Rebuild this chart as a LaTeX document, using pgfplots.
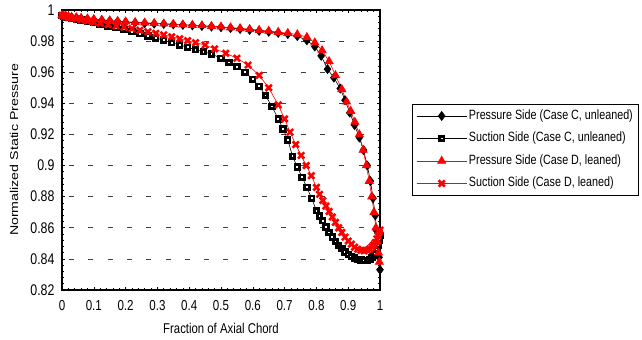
\documentclass[border=0pt]{standalone}
\usepackage{fontspec}
\setmainfont{Liberation Sans}
\usepackage{pgfplots}
\pgfplotsset{compat=1.18}
\definecolor{pred}{RGB}{255,0,0}
\newcommand{\tx}[1]{\scalebox{1}[1.25]{#1}}
\newcommand{\ty}[1]{\scalebox{1.25}[1]{#1}}

\begin{document}
\begin{tikzpicture}
\begin{axis}[
  scale only axis, width=318bp, height=280bp,
  xmin=0, xmax=1, ymin=0.82, ymax=1,
  xtick={0,0.1,...,1.0}, ytick={0.82,0.84,...,1.001},
  xticklabels={\tx{0},\tx{0.1},\tx{0.2},\tx{0.3},\tx{0.4},\tx{0.5},\tx{0.6},\tx{0.7},\tx{0.8},\tx{0.9},\tx{1}},
  yticklabels={\tx{0.82},\tx{0.84},\tx{0.86},\tx{0.88},\tx{0.9},\tx{0.92},\tx{0.94},\tx{0.96},\tx{0.98},\tx{1}},
  minor x tick num=4, minor y tick num=4,
  tick align=inside,
  major tick length=3bp, minor tick length=2.2bp,
  every tick/.style={black, line width=0.6pt},
  axis line style={line width=2.5bp},
  ymajorgrids,
  grid style={black!75, line width=0.7pt, dash pattern=on 5bp off 14.3bp, dash phase=-7bp},
  xticklabel style={font=\fontsize{11.6}{13}\selectfont, yshift=-7bp},
  yticklabel style={font=\fontsize{12.4}{14}\selectfont, xshift=-4bp},
  xlabel={\tx{Fraction of Axial Chord}}, ylabel={\ty{Normalized Static Pressure}},
  label style={font=\fontsize{11.4}{13}\selectfont},
  xlabel style={at={(axis description cs:0.5,-0.1357)}, anchor=center},
  ylabel style={at={(axis description cs:-0.151,0.5)}, anchor=center},
  legend style={at={(1.1006,0.664)}, anchor=north west, draw=black, line width=0.8pt,
    font=\fontsize{10.8}{13}\selectfont, row sep=9.5bp, inner xsep=4bp, inner ysep=5bp,
    nodes={inner xsep=2bp, inner ysep=0bp, text height=10bp, text depth=3bp}},
  legend cell align=left,
  legend image code/.code={\draw[mark repeat=2,mark phase=2,#1] plot coordinates {(0bp,0bp) (25bp,0bp) (50bp,0bp)};},
]
% Pressure Side C
\addplot[black, line width=0.6pt, mark=diamond*, mark size=4.4pt, mark options={solid, fill=black, line width=0.8pt}] coordinates {
(0,0.9965)(0.005,0.9962)(0.012,0.996)(0.02,0.9957)(0.03,0.9953)(0.045,0.995)(0.06,0.9946)(0.08,0.9942)
(0.1,0.9938)(0.125,0.9934)(0.15,0.993)(0.175,0.9926)(0.2,0.9922)(0.23,0.9918)(0.26,0.9915)(0.29,0.9912)
(0.32,0.991)(0.35,0.9907)(0.38,0.9904)(0.41,0.9901)(0.44,0.9897)(0.47,0.9893)(0.5,0.9889)(0.53,0.9884)
(0.56,0.9878)(0.59,0.9872)(0.62,0.9866)(0.65,0.986)(0.68,0.9853)(0.71,0.9845)(0.74,0.9832)(0.77,0.9805)
(0.795,0.9765)(0.815,0.9705)(0.835,0.962)(0.855,0.9565)(0.875,0.9495)(0.89,0.942)(0.905,0.934)(0.92,0.926)
(0.935,0.918)(0.948,0.910)(0.96,0.900)(0.97,0.89)(0.978,0.879)(0.985,0.868)(0.99,0.858)(0.994,0.849)
(0.997,0.841)(1.0,0.833)};
\addlegendentry{\tx{Pressure Side (Case C, unleaned)}}
% Suction Side C
\addplot[black, line width=0.6pt, mark=square*, mark size=2.3pt, mark options={solid, fill=white, draw=black, line width=2.8pt}] coordinates {
(0,0.9965)(0.005,0.996)(0.012,0.9955)(0.02,0.995)(0.03,0.9945)(0.045,0.994)(0.06,0.9935)(0.08,0.9928)
(0.1,0.992)(0.12,0.991)(0.145,0.9898)(0.17,0.9886)(0.195,0.9874)(0.22,0.986)(0.245,0.9847)(0.27,0.9833)
(0.295,0.982)(0.32,0.9806)(0.345,0.979)(0.37,0.9775)(0.395,0.976)(0.42,0.9745)(0.445,0.9732)(0.47,0.9717)
(0.5,0.969)(0.525,0.9663)(0.55,0.9635)(0.575,0.96)(0.6,0.9555)(0.62,0.951)(0.64,0.945)(0.66,0.938)
(0.68,0.93)(0.695,0.9235)(0.71,0.9165)(0.725,0.906)(0.74,0.899)(0.755,0.8925)(0.77,0.886)(0.785,0.879)
(0.8,0.871)(0.81,0.8675)(0.82,0.8645)(0.83,0.8605)(0.84,0.857)(0.85,0.854)(0.86,0.851)(0.87,0.8485)
(0.88,0.8465)(0.89,0.8445)(0.9,0.8428)(0.91,0.8415)(0.92,0.8405)(0.93,0.8398)(0.94,0.8393)(0.95,0.839)
(0.96,0.8391)(0.968,0.8398)(0.975,0.8408)(0.98,0.842)(0.985,0.8435)(0.99,0.8465)(0.994,0.849)(0.997,0.852)(1.0,0.855)};
\addlegendentry{\tx{Suction Side (Case C, unleaned)}}
% Pressure Side D
\addplot[pred, line width=0.6pt, mark=triangle*, mark size=4.6pt, mark options={solid, fill=pred, line width=0.8pt}] coordinates {
(0,0.9966)(0.005,0.9963)(0.012,0.9961)(0.02,0.9958)(0.03,0.9955)(0.045,0.9952)(0.06,0.9948)(0.08,0.9944)
(0.1,0.994)(0.125,0.9936)(0.15,0.9932)(0.175,0.9928)(0.2,0.9925)(0.23,0.9921)(0.26,0.9918)(0.29,0.9915)
(0.32,0.9912)(0.35,0.9909)(0.38,0.9906)(0.41,0.9903)(0.44,0.99)(0.47,0.9896)(0.5,0.9892)(0.53,0.9887)
(0.56,0.9882)(0.59,0.9877)(0.62,0.9871)(0.65,0.9865)(0.68,0.9858)(0.71,0.9851)(0.74,0.9843)(0.77,0.9825)
(0.795,0.9790)(0.818,0.974)(0.84,0.967)(0.86,0.958)(0.88,0.949)(0.895,0.941)(0.908,0.935)(0.921,0.928)
(0.935,0.920)(0.947,0.910)(0.957,0.900)(0.966,0.89)(0.974,0.88)(0.981,0.87)(0.987,0.86)(0.991,0.851)
(0.995,0.844)(0.998,0.838)};
\addlegendentry{\tx{Pressure Side (Case D, leaned)}}
% Suction Side D
\addplot[pred, line width=0.6pt, mark=x, mark size=4.4pt, mark options={solid, line width=2.6pt}] coordinates {
(0,0.9965)(0.005,0.9961)(0.012,0.9957)(0.02,0.9952)(0.03,0.9947)(0.045,0.9942)(0.06,0.9936)(0.08,0.9929)
(0.1,0.9922)(0.12,0.9915)(0.145,0.9906)(0.17,0.9898)(0.195,0.989)(0.22,0.988)(0.245,0.987)(0.27,0.986)
(0.295,0.985)(0.32,0.984)(0.345,0.9828)(0.37,0.9815)(0.395,0.9803)(0.42,0.979)(0.45,0.9775)(0.48,0.975)
(0.515,0.9722)(0.55,0.969)(0.585,0.9646)(0.62,0.958)(0.65,0.95)(0.68,0.939)(0.7,0.93)(0.717,0.9215)
(0.735,0.9135)(0.752,0.9065)(0.768,0.9)(0.784,0.8935)(0.8,0.886)(0.81,0.8815)(0.82,0.8775)(0.83,0.874)
(0.84,0.8705)(0.85,0.867)(0.86,0.8635)(0.87,0.86)(0.88,0.857)(0.89,0.854)(0.9,0.8515)(0.91,0.8495)
(0.92,0.8475)(0.93,0.8462)(0.94,0.8455)(0.95,0.8452)(0.96,0.8456)(0.968,0.8465)(0.975,0.8478)(0.98,0.849)
(0.985,0.8505)(0.99,0.853)(0.994,0.855)(0.997,0.857)(1.0,0.8585)};
\addlegendentry{\tx{Suction Side (Case D, leaned)}}
\end{axis}
\pgfresetboundingbox
\path[use as bounding box] (-62bp,-50bp) rectangle (580bp,290bp);
\end{tikzpicture}
\end{document}
